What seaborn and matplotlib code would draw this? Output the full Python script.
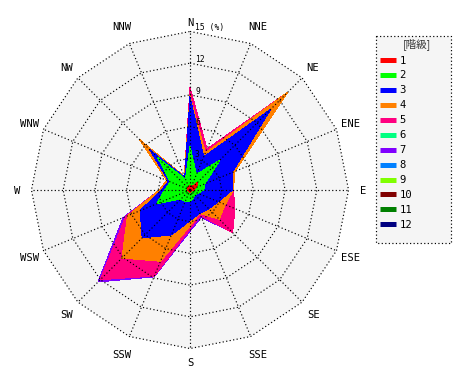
import numpy as np
import matplotlib
matplotlib.use("Agg")
import matplotlib.pyplot as plt
import seaborn as sns
from matplotlib.patches import Rectangle

# ---------------- data ----------------
directions = ["N", "NNE", "NE", "ENE", "E", "ESE", "SE", "SSE",
              "S", "SSW", "SW", "WSW", "W", "WNW", "NW", "NNW"]
class_labels = ["1", "2", "3", "4", "5", "6", "7", "8", "9", "10", "11", "12"]
class_colors = ["#ff0000", "#00ff00", "#0000ff", "#ff8000", "#ff0080", "#00ff80",
                "#8000ff", "#0080ff", "#80ff00", "#800000", "#008000", "#000080"]
radial_ticks = [3, 6, 9, 12, 15]

# frequency (%) of each class per direction (N, NNE, ..., NNW)
class_1 = [0.4, 0.3, 1.0, 0.7, 0.3, 0.2, 0.2, 0.2, 0.2, 0.2, 0.2, 0.2, 0.2, 0.2, 0.3, 0.3]
class_2 = [3.7, 1.3, 3.0, 0.8, 1.0, 0.6, 0.5, 0.6, 0.9, 1.0, 1.0, 3.2, 2.2, 1.8, 4.0, 0.8]
class_3 = [4.7, 1.8, 6.8, 2.8, 2.7, 2.1, 1.8, 1.6, 1.8, 3.4, 5.2, 1.7, 0.3, 0.2, 1.1, 0.2]
class_4 = [0.1, 0.4, 2.3, 0.3, 0.1, 0.7, 1.4, 0.0, 0.5, 2.7, 2.7, 1.3, 0.2, 0.2, 1.3, 0.1]
class_5 = [0.8, 0.4, 0.0, 0.0, 0.0, 1.0, 1.8, 0.2, 0.3, 1.5, 2.9, 0.2, 0.0, 0.0, 0.0, 0.0]
class_6 = [0.0] * 16
class_7 = [0.0, 0.0, 0.0, 0.0, 0.0, 0.0, 0.0, 0.2, 0.2, 0.1, 0.3, 0.25, 0.0, 0.0, 0.0, 0.0]
class_8 = [0.0] * 16
class_9 = [0.0] * 16
class_10 = [0.0] * 16
class_11 = [0.0] * 16
class_12 = [0.0] * 16

classes = [class_1, class_2, class_3, class_4, class_5, class_6,
           class_7, class_8, class_9, class_10, class_11, class_12]

# ---------------- style ----------------
sns.set_theme(style="white")
palette = sns.color_palette(class_colors)
plt.rcParams['font.family'] = ['DejaVu Sans Mono', 'DejaVu Sans']

W, H = 470, 380
fig = plt.figure(figsize=(W / 100, H / 100), dpi=100)
fig.patch.set_facecolor("white")

PX = 10.57          # pixels per percent
CX, CY = 190, 190   # centre in pixels (from top-left)
ax = fig.add_axes([0, 0, 1, 1])
ax.set_xlim(-CX / PX, (W - CX) / PX)
ax.set_ylim(-(H - CY) / PX, CY / PX)
ax.axis("off")

theta = np.deg2rad(np.arange(len(directions)) * 22.5)


def to_xy(r):
    r = np.asarray(r, dtype=float)
    return r * np.sin(theta), r * np.cos(theta)


rmax = radial_ticks[-1]
bx, by = to_xy(np.full(len(directions), rmax))
ax.fill(bx, by, color="#f5f5f5", lw=0, zorder=0)

cum = np.cumsum(np.array(classes, dtype=float), axis=0)
for k in range(len(classes) - 1, -1, -1):
    if np.any(np.array(classes[k]) > 0):
        x, y = to_xy(cum[k])
        ax.fill(x, y, color=palette[k], lw=0, zorder=1, antialiased=False)

dot = (0, (1, 2))
GLW = 0.85
for r in radial_ticks:
    x, y = to_xy(np.full(len(directions), r))
    ax.plot(np.append(x, x[0]), np.append(y, y[0]), color="black", lw=GLW,
            ls=dot, zorder=3)
for t in theta:
    ax.plot([0, rmax * np.sin(t)], [0, rmax * np.cos(t)], color="black", lw=GLW,
            ls=dot, zorder=3)

# radial tick labels
for r in radial_ticks:
    lab = f"{r} (%)" if r == rmax else f"{r}"
    ax.text(5 / PX, r + 1.2 / PX, lab, ha="left", va="baseline", fontsize=5.8,
            color="black", zorder=4)

# direction labels
label_r_px = [168, 178, 174, 174, 173, 174, 175, 178, 172, 178, 175, 174, 173, 174, 174, 178]
for d, t, rp in zip(directions, theta, label_r_px):
    r = rp / PX
    ax.text(r * np.sin(t), r * np.cos(t), d, ha="center", va="center_baseline",
            fontsize=7.6, color="black")

# legend panel (pixel coordinates)
LX, LY, LW, LH = 375, 35, 76, 208
lax = fig.add_axes([LX / W, 1 - (LY + LH) / H, LW / W, LH / H])
lax.set_xlim(0, LW)
lax.set_ylim(LH, 0)
lax.axis("off")
lax.add_patch(Rectangle((0.5, 0.5), LW - 1, LH - 1, facecolor="#f5f5f5",
                        edgecolor="black", lw=GLW, ls=dot, clip_on=False))
lax.text(42, 9.5, "[階級]", ha="center", va="center", fontsize=7.6,
         family=["Noto Sans CJK JP", "DejaVu Sans"], color="#333333")
for i, (lab, col) in enumerate(zip(class_labels, palette)):
    yy = 25 + 14.94 * i
    lax.plot([5, 21], [yy, yy], color=col, lw=3.6, solid_capstyle="butt")
    lax.text(24.5, yy + 0.5, lab, ha="left", va="center", fontsize=7.6, color="black")

fig.savefig("out.png", dpi=100, facecolor="white")
